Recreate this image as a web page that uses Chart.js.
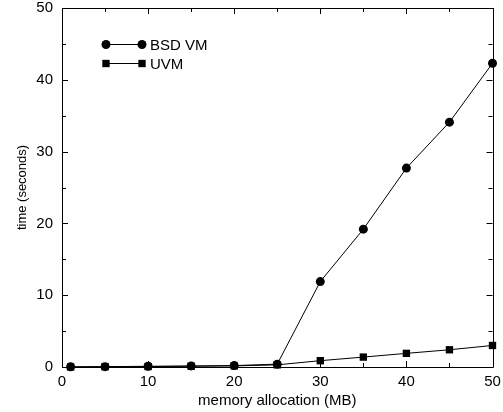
<!DOCTYPE html>
<html>
<head>
<meta charset="utf-8">
<script src="https://cdn.jsdelivr.net/npm/chart.js@4/dist/chart.umd.min.js"></script>
<style>
html,body{margin:0;padding:0;background:#fff;}
#wrap{width:503px;height:412px;}
</style>
</head>
<body>
<div id="wrap"><canvas id="c" width="503" height="412"></canvas></div>
<script>
const memoryMB = [1, 5, 10, 15, 20, 25, 30, 35, 40, 45, 50];
const bsdVM = [0.02, 0.05, 0.1, 0.15, 0.2, 0.4, 11.9, 19.2, 27.7, 34.1, 42.3];
const uvm = [0.01, 0.03, 0.06, 0.1, 0.15, 0.3, 0.88, 1.38, 1.9, 2.4, 3.0];
const seriesNames = ['BSD VM', 'UVM'];
const FONT = '"Liberation Sans", Arial, Helvetica, sans-serif';

const framePlugin = {
  id: 'frame',
  afterDraw(chart) {
    const ctx = chart.ctx, a = chart.chartArea;
    const xs = chart.scales.x, ys = chart.scales.y;
    ctx.save();
    ctx.strokeStyle = '#000';
    ctx.lineWidth = 1;
    ctx.beginPath();
    ctx.rect(Math.round(a.left) + 0.5, Math.round(a.top) + 0.5, Math.round(a.right - a.left), Math.round(a.bottom - a.top));
    ctx.stroke();
    ctx.beginPath();
    for (let v = 0; v <= 50; v += 5) {
      const len = v % 10 === 0 ? 6 : 4;
      const px = Math.round(xs.getPixelForValue(v)) + 0.5;
      ctx.moveTo(px, a.bottom); ctx.lineTo(px, a.bottom - len);
      ctx.moveTo(px, a.top); ctx.lineTo(px, a.top + len);
      const py = Math.round(ys.getPixelForValue(v)) + 0.5;
      ctx.moveTo(a.left, py); ctx.lineTo(a.left + len, py);
      ctx.moveTo(a.right, py); ctx.lineTo(a.right - len, py);
    }
    ctx.stroke();
    // legend
    const lx1 = a.left + 44, lx2 = a.left + 80, tx = a.left + 88;
    chart.data.datasets.forEach((ds, i) => {
      const y = a.top + 36.5 + i * 19;
      ctx.beginPath();
      ctx.moveTo(lx1, y); ctx.lineTo(lx2, y);
      ctx.stroke();
      ctx.fillStyle = '#000';
      [lx1, lx2].forEach(x => {
        if (ds.pointStyle === 'circle') {
          ctx.beginPath();
          ctx.arc(x, y, ds.pointRadius, 0, Math.PI * 2);
          ctx.fill();
        } else {
          const h = ds.pointRadius * Math.SQRT1_2;
          ctx.fillRect(x - h, y - h, 2 * h, 2 * h);
        }
      });
      ctx.font = '15px ' + FONT;
      ctx.textAlign = 'left';
      ctx.textBaseline = 'middle';
      ctx.fillText(ds.label, tx, y + 1);
    });
    ctx.restore();
  }
};

new Chart(document.getElementById('c'), {
  type: 'line',
  data: {
    datasets: [
      {
        label: seriesNames[0],
        data: memoryMB.map((x, i) => ({x: x, y: bsdVM[i]})),
        borderColor: '#000', backgroundColor: '#000',
        borderWidth: 1, pointStyle: 'circle', pointRadius: 4.5,
        pointBorderWidth: 0, tension: 0, clip: false
      },
      {
        label: seriesNames[1],
        data: memoryMB.map((x, i) => ({x: x, y: uvm[i]})),
        borderColor: '#000', backgroundColor: '#000',
        borderWidth: 1, pointStyle: 'rect', pointRadius: 5.2,
        pointBorderWidth: 0, tension: 0, clip: false
      }
    ]
  },
  options: {
    responsive: false,
    animation: false,
    layout: {padding: {top: 8, right: 10.5, left: 0, bottom: 0}},
    plugins: {legend: {display: false}, tooltip: {enabled: false}},
    scales: {
      x: {
        type: 'linear', min: 0, max: 50,
        grid: {display: false, drawTicks: false},
        border: {display: true, color: '#000'},
        ticks: {stepSize: 10, color: '#000', padding: 6, maxRotation: 0, font: {family: FONT, size: 15}},
        title: {display: true, text: 'memory allocation (MB)', color: '#000', padding: {top: 0, bottom: 2}, font: {family: FONT, size: 15}},
        afterFit(s) { s.height = 45; s.paddingRight = 0; s.paddingLeft = 0; }
      },
      y: {
        type: 'linear', min: 0, max: 50,
        grid: {display: false, drawTicks: false},
        border: {display: true, color: '#000'},
        ticks: {stepSize: 10, color: '#000', padding: 9, font: {family: FONT, size: 15}},
        title: {display: true, text: 'time (seconds)', color: '#000', padding: {top: 15, bottom: 0}, font: {family: FONT, size: 13}},
        afterFit(s) { s.width = 62; s.paddingTop = 0; s.paddingBottom = 0; }
      }
    }
  },
  plugins: [framePlugin]
});
</script>
</body>
</html>
